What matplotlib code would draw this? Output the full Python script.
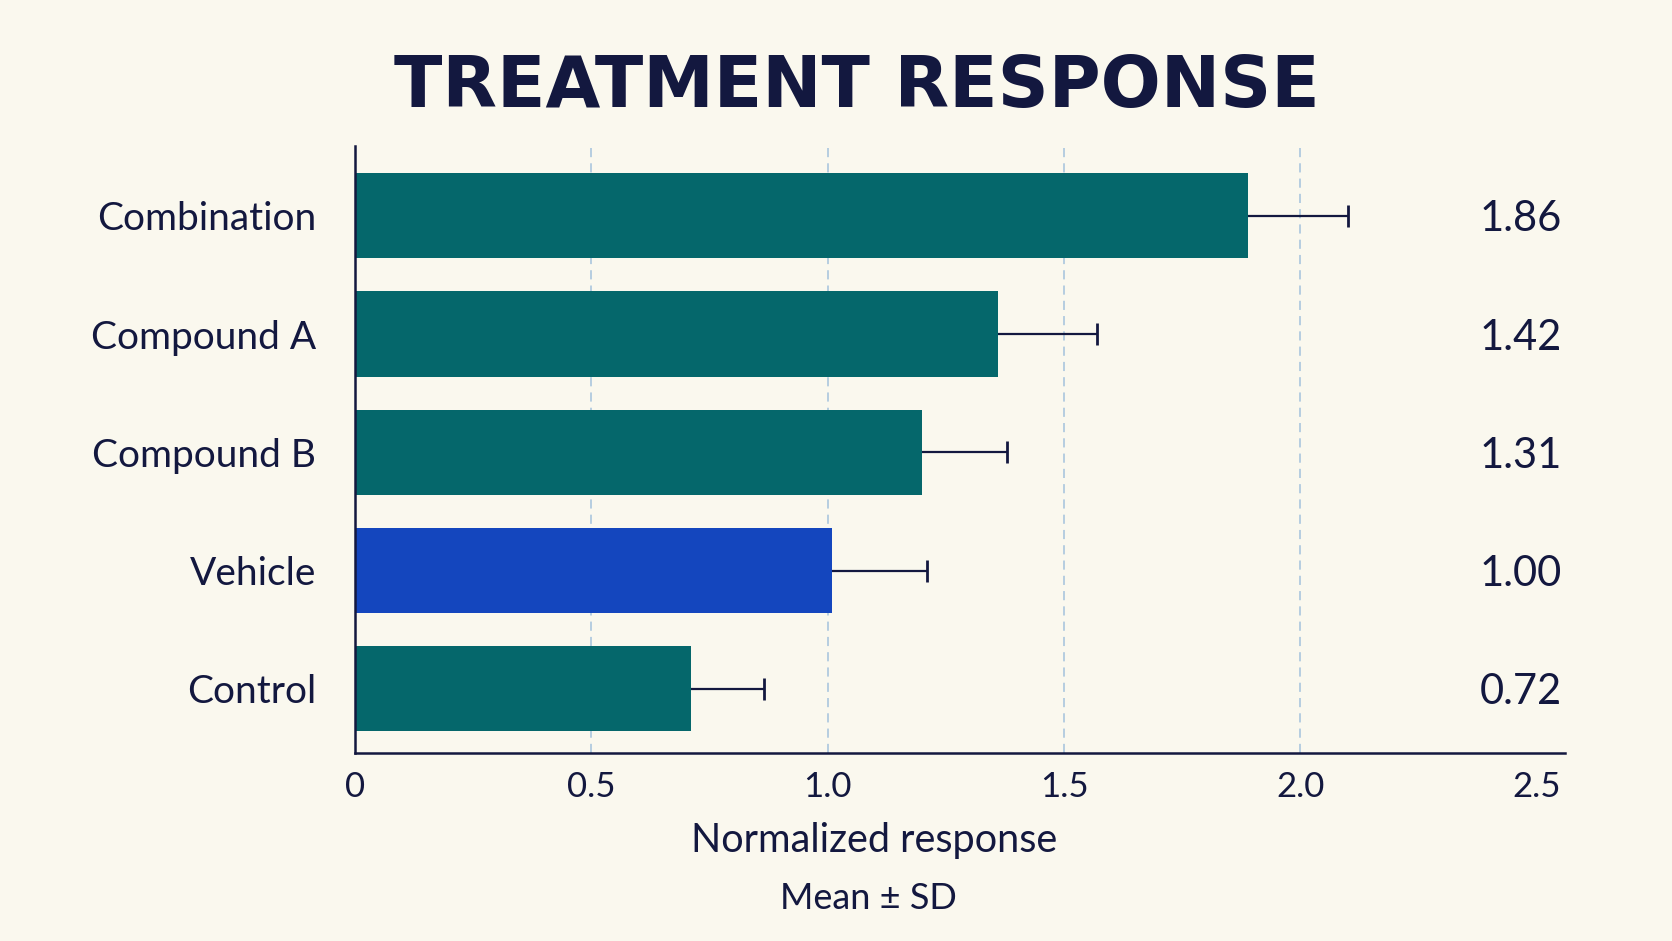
import matplotlib
matplotlib.use('Agg')
import matplotlib.pyplot as plt
import numpy as np

# ── data ─────────────────────────────────────────────────────────────
groups = ['Control', 'Vehicle', 'Compound B', 'Compound A', 'Combination']
means = [0.71, 1.01, 1.20, 1.36, 1.89]          # bar lengths as drawn
sds = [0.155, 0.20, 0.18, 0.21, 0.21]
value_labels = ['0.72', '1.00', '1.31', '1.42', '1.86']
xticks = [0, 0.5, 1.0, 1.5, 2.0, 2.5]
xtick_labels = ['0', '0.5', '1.0', '1.5', '2.0', '2.5']
grid_at = [0.5, 1.0, 1.5, 2.0]

# ── style ────────────────────────────────────────────────────────────
BG = '#FAF8EE'
NAVY = '#13183F'
TEAL = '#05676B'
BLUE = '#1446BE'
GRID = '#A3C2DD'
FONT = ['Lato', 'DejaVu Sans']

W, H = 1672, 941
fig = plt.figure(figsize=(W / 100, H / 100), dpi=100, facecolor=BG)
ax = fig.add_axes([355 / W, 1 - 752.7 / H, (1565 - 355) / W, (752.7 - 146) / H])
ax.set_facecolor(BG)

y = np.arange(len(groups))
colors = [BLUE if g == 'Vehicle' else TEAL for g in groups]
ends = np.array(means) + np.array(sds)

for gx in grid_at:
    ax.axvline(gx, color=GRID, lw=1.1, ls=(0, (6, 4)), zorder=0)

ax.barh(y, means, height=0.72, color=colors, zorder=2)
# one-sided SD whiskers (cap only at the outer end)
ax.hlines(y, means, ends, color=NAVY, lw=1.6, zorder=3)
ax.plot(ends, y, ls='none', marker='|', ms=16, mew=2.0, color=NAVY, zorder=3)

for yi, lbl in zip(y, value_labels):
    ax.text(0.9975, yi, lbl, transform=ax.get_yaxis_transform(),
            ha='right', va='center_baseline', fontsize=30, color=NAVY,
            family=FONT)

ax.set_xlim(0, 2.56)
ax.set_ylim(-0.54, 4.59)
ax.set_xticks(xticks)
ax.set_xticklabels(xtick_labels, fontsize=25, color=NAVY, family=FONT)
ax.set_yticks(y)
ax.set_yticklabels(groups, fontsize=28, color=NAVY, family=FONT)
ax.tick_params(axis='x', length=0, pad=13)
ax.tick_params(axis='y', length=0, pad=28)

for s in ['top', 'right']:
    ax.spines[s].set_visible(False)
for s in ['left', 'bottom']:
    ax.spines[s].set_color(NAVY)
    ax.spines[s].set_linewidth(1.8)

fig.text(857 / W, 1 - 107 / H, 'TREATMENT RESPONSE', ha='center', va='baseline',
         fontsize=51, fontweight='bold', color=NAVY, family='DejaVu Sans')
fig.text(874 / W, 1 - 852 / H, 'Normalized response', ha='center', va='baseline',
         fontsize=28.5, color=NAVY, family=FONT)
fig.text(868 / W, 1 - 909 / H, 'Mean ± SD', ha='center', va='baseline',
         fontsize=26, color=NAVY, family=FONT)

fig.savefig('out.png', dpi=100, facecolor=BG)
